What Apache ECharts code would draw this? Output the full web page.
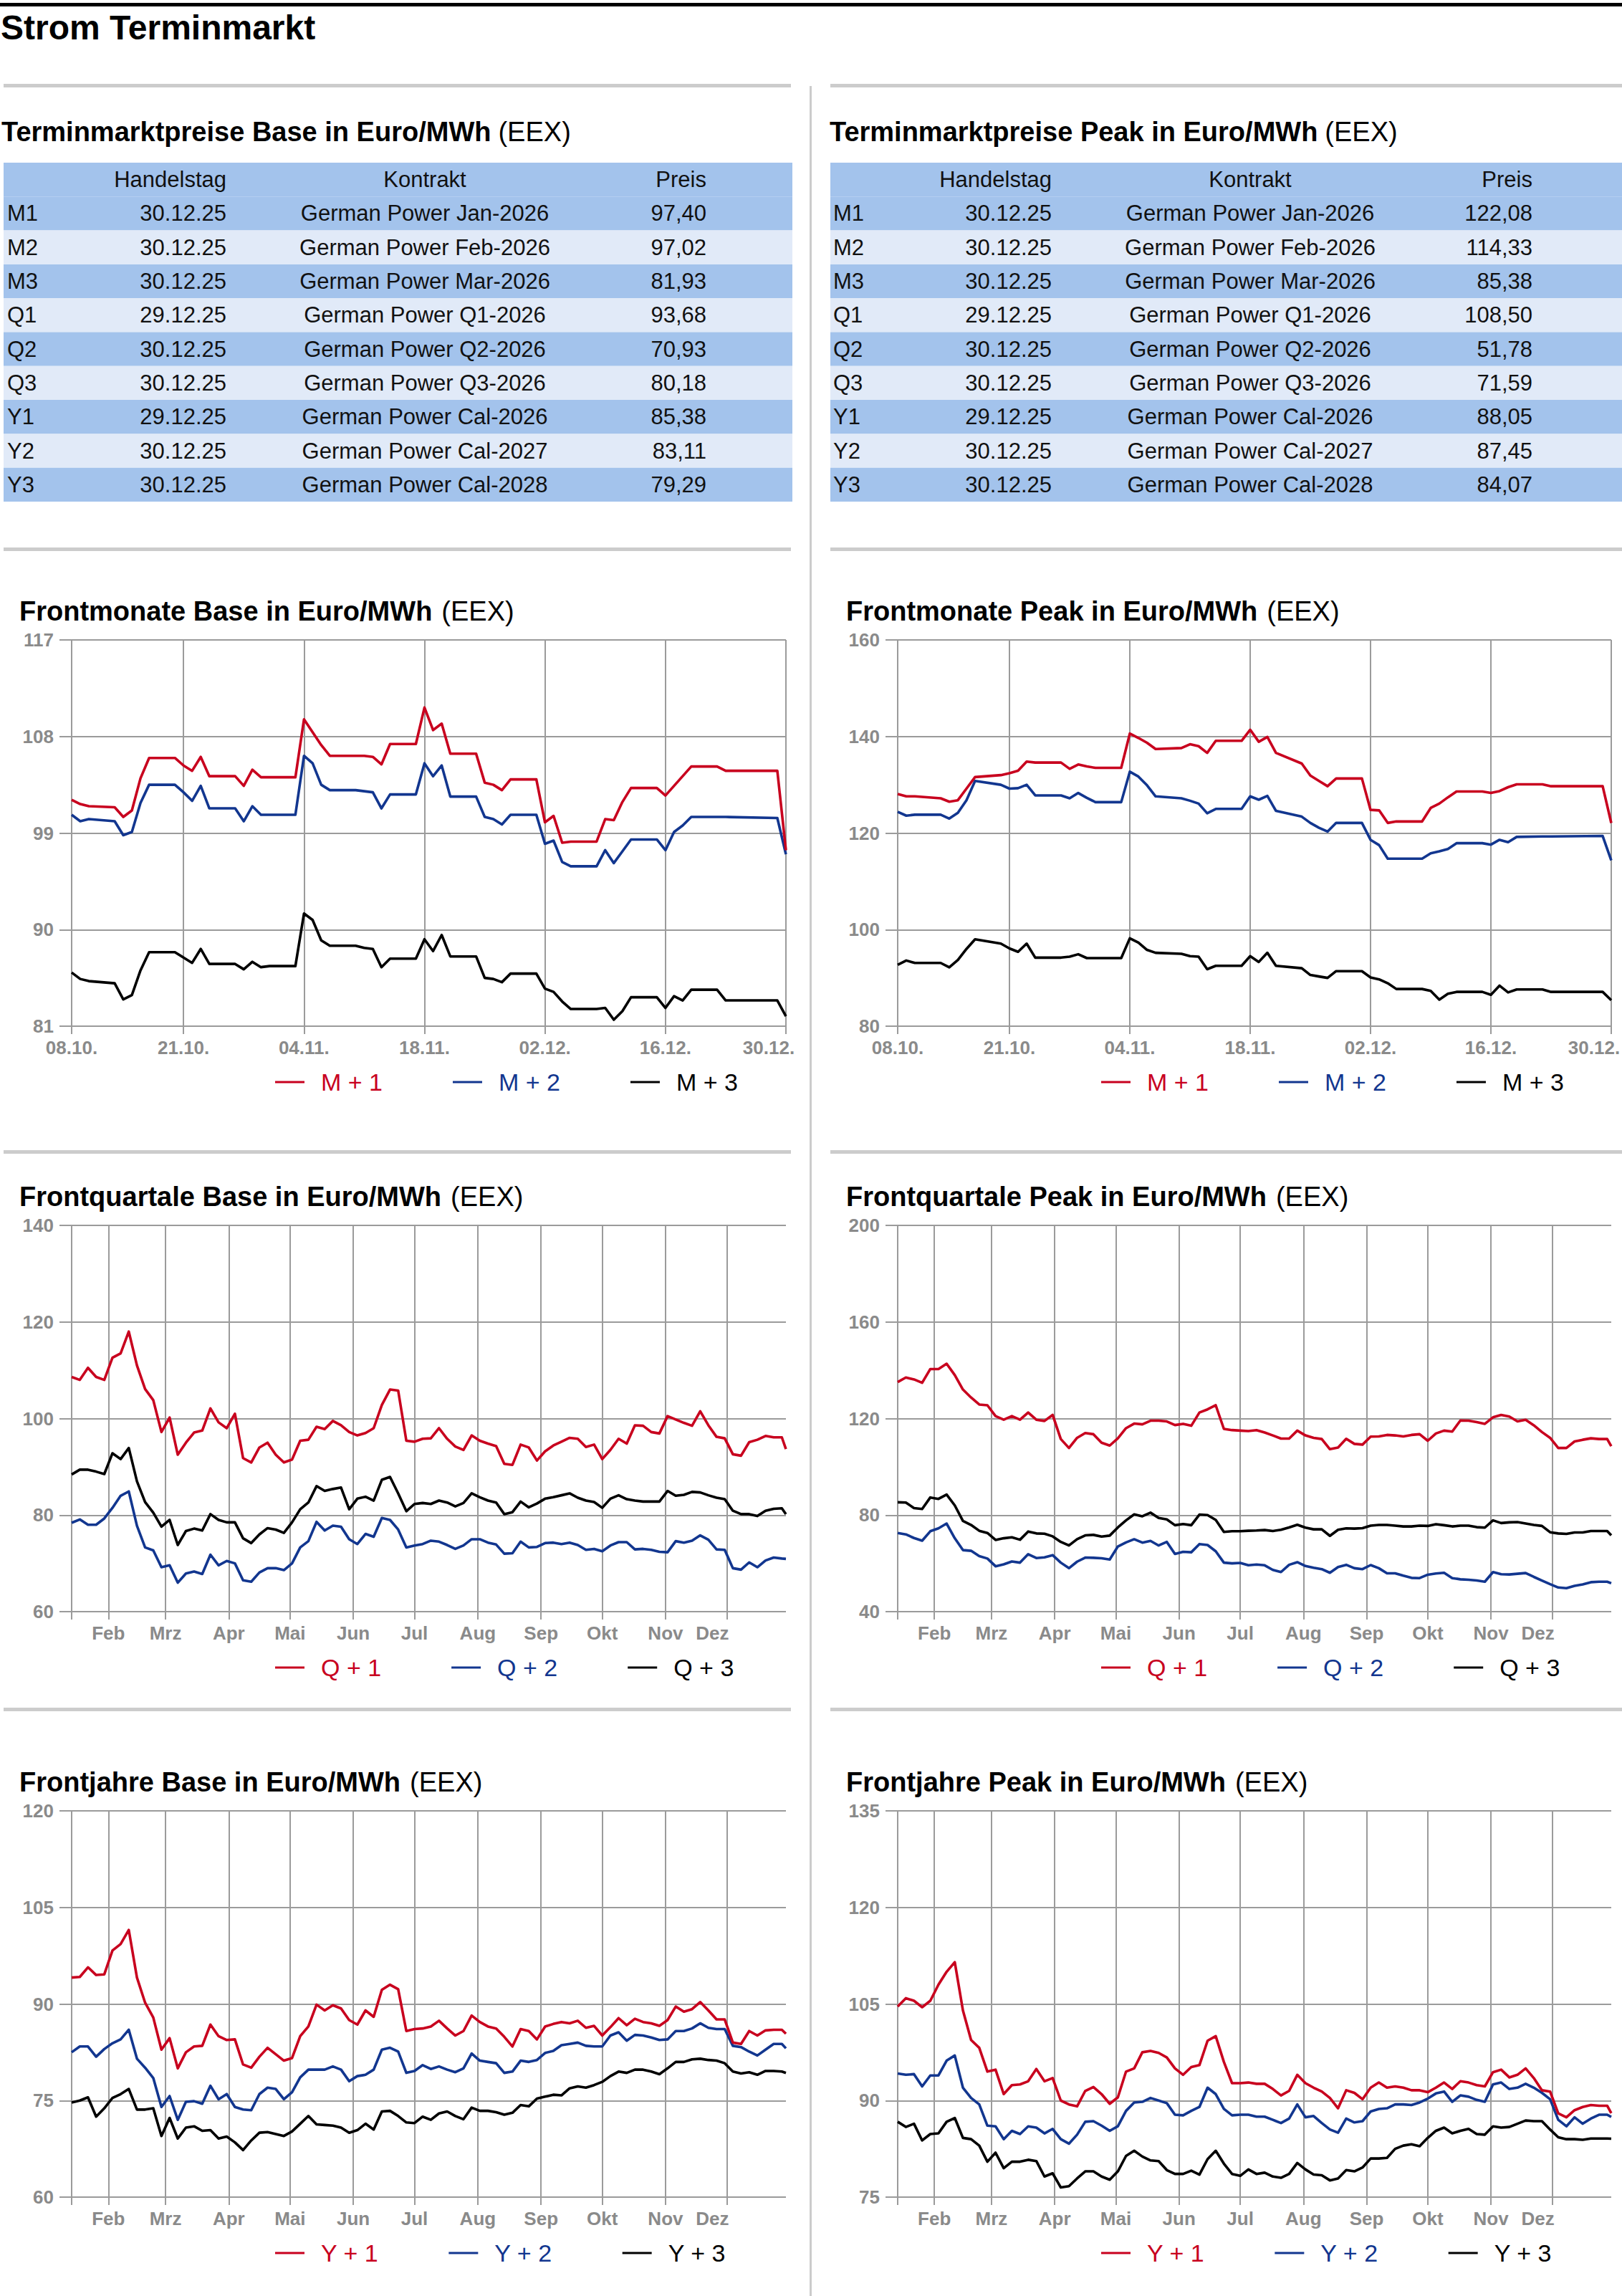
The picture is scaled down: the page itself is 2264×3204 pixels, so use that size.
<!DOCTYPE html>
<html><head><meta charset="utf-8">
<script src="https://cdn.jsdelivr.net/npm/echarts@6/dist/echarts.min.js"></script>
<style>html,body{margin:0;padding:0;background:#fff}#c{width:2264px;height:3204px}</style>
</head><body><div id="c"></div>
<script>
// ---------------- DATA ----------------
const tableRowLabels = ['M1','M2','M3','Q1','Q2','Q3','Y1','Y2','Y3'];
const tableHeader = ['Handelstag','Kontrakt','Preis'];
const baseDates = ['30.12.25','30.12.25','30.12.25','29.12.25','30.12.25','30.12.25','29.12.25','30.12.25','30.12.25'];
const baseContracts = ['German Power Jan-2026','German Power Feb-2026','German Power Mar-2026','German Power Q1-2026','German Power Q2-2026','German Power Q3-2026','German Power Cal-2026','German Power Cal-2027','German Power Cal-2028'];
const basePrices = ['97,40','97,02','81,93','93,68','70,93','80,18','85,38','83,11','79,29'];
const peakDates = ['30.12.25','30.12.25','30.12.25','29.12.25','30.12.25','30.12.25','29.12.25','30.12.25','30.12.25'];
const peakContracts = ['German Power Jan-2026','German Power Feb-2026','German Power Mar-2026','German Power Q1-2026','German Power Q2-2026','German Power Q3-2026','German Power Cal-2026','German Power Cal-2027','German Power Cal-2028'];
const peakPrices = ['122,08','114,33','85,38','108,50','51,78','71,59','88,05','87,45','84,07'];

const fmNames = ['M + 1','M + 2','M + 3'];
const qNames = ['Q + 1','Q + 2','Q + 3'];
const yNames = ['Y + 1','Y + 2','Y + 3'];

const fmDates = ['2025-10-08','2025-10-09','2025-10-10','2025-10-13','2025-10-14','2025-10-15','2025-10-16','2025-10-17','2025-10-20','2025-10-21','2025-10-22','2025-10-23','2025-10-24','2025-10-27','2025-10-28','2025-10-29','2025-10-30','2025-10-31',
'2025-11-03','2025-11-04','2025-11-05','2025-11-06','2025-11-07','2025-11-10','2025-11-11','2025-11-12','2025-11-13','2025-11-14','2025-11-17','2025-11-18','2025-11-19','2025-11-20','2025-11-21','2025-11-24','2025-11-25','2025-11-26','2025-11-27','2025-11-28',
'2025-12-01','2025-12-02','2025-12-03','2025-12-04','2025-12-05','2025-12-08','2025-12-09','2025-12-10','2025-12-11','2025-12-12','2025-12-15','2025-12-16','2025-12-17','2025-12-18','2025-12-19','2025-12-22','2025-12-23','2025-12-29','2025-12-30'];
const fmTickDates = ['2025-10-08','2025-10-21','2025-11-04','2025-11-18','2025-12-02','2025-12-16','2025-12-30'];
const fmLabelDates = ['2025-10-08','2025-10-21','2025-11-04','2025-11-18','2025-12-02','2025-12-16','2025-12-28'];
const fmLabelNames = ['08.10.','21.10.','04.11.','18.11.','02.12.','16.12.','30.12.'];

const fmBaseM1 = [102.1,101.7,101.5,101.4,100.5,101.1,104.1,106.0,106.0,105.3,104.8,106.1,104.3,104.3,103.4,104.9,104.2,104.2,
104.2,109.6,108.4,107.2,106.2,106.2,106.2,106.1,105.4,107.3,107.3,110.7,108.6,109.2,106.4,106.4,103.7,103.5,103.0,104.0,
104.0,100.0,100.6,98.1,98.2,98.2,100.3,100.2,101.9,103.2,103.2,102.5,103.4,104.3,105.2,105.2,104.8,104.8,97.40];
const fmBaseM2 = [100.7,100.1,100.3,100.1,98.8,99.1,101.8,103.5,103.5,102.8,102.0,103.4,101.3,101.3,100.1,101.5,100.7,100.7,
100.7,106.2,105.5,103.5,103.0,103.0,102.9,102.8,101.3,102.6,102.6,105.5,104.3,105.3,102.4,102.4,100.5,100.3,99.8,100.7,
100.7,98.0,98.3,96.3,95.9,95.9,97.4,96.2,97.3,98.4,98.4,97.4,99.1,99.7,100.5,100.5,100.5,100.4,97.02];
const fmBaseM3 = [86.0,85.4,85.2,85.0,83.5,83.9,86.2,87.9,87.9,87.4,86.9,88.2,86.8,86.8,86.3,87.0,86.5,86.6,
86.6,91.5,90.9,89.0,88.5,88.5,88.3,88.2,86.5,87.3,87.3,89.1,88.0,89.5,87.5,87.5,85.5,85.4,85.1,85.9,
85.9,84.5,84.2,83.3,82.6,82.6,82.7,81.6,82.4,83.7,83.7,82.7,83.8,83.4,84.4,84.4,83.4,83.4,81.93];
const fmPeakM1 = [128.1,127.6,127.6,127.2,126.5,126.8,129.2,131.6,132.0,132.4,132.9,134.8,134.6,134.6,133.3,134.2,133.8,133.5,
133.5,140.6,139.7,138.7,137.4,137.6,138.4,138.0,136.6,139.1,139.1,141.4,138.9,139.9,136.6,134.4,131.9,130.8,129.7,131.3,
131.3,124.8,124.7,122.1,122.4,122.4,125.2,126.1,127.4,128.6,128.6,128.3,128.7,129.5,130.1,130.1,129.7,129.7,122.08];
const fmPeakM2 = [124.4,123.6,123.8,123.8,123.0,124.2,126.8,130.8,130.0,129.2,129.3,130.0,127.8,127.8,127.2,128.3,127.3,126.4,
126.4,132.7,131.7,129.9,127.6,127.2,126.7,126.1,124.1,125.0,125.0,127.6,126.9,127.7,124.6,123.4,122.1,121.1,120.3,122.1,
122.1,118.6,117.5,114.7,114.7,114.7,115.8,116.2,116.7,117.9,117.9,117.6,118.6,118.1,119.2,119.3,119.3,119.4,114.33];
const fmPeakM3 = [92.7,93.6,93.1,93.1,92.2,93.7,96.0,98.0,97.1,96.1,95.4,97.1,94.2,94.2,94.4,94.9,94.1,94.1,
94.1,98.2,97.3,95.8,95.2,95.0,94.5,94.4,91.8,92.5,92.5,94.5,93.3,95.2,92.5,92.0,90.6,90.3,90.0,91.4,
91.4,90.1,89.7,88.9,87.7,87.7,87.3,85.5,86.7,87.1,87.1,86.5,88.4,87.0,87.6,87.6,87.1,87.1,85.38];

const yrDates = ['2025-01-14','2025-01-18','2025-01-22','2025-01-26','2025-01-30','2025-02-03','2025-02-07','2025-02-11','2025-02-15','2025-02-19','2025-02-23','2025-02-27',
'2025-03-03','2025-03-07','2025-03-11','2025-03-15','2025-03-19','2025-03-23','2025-03-27','2025-03-31','2025-04-04','2025-04-08','2025-04-12','2025-04-16','2025-04-20','2025-04-24','2025-04-28',
'2025-05-02','2025-05-06','2025-05-10','2025-05-14','2025-05-18','2025-05-22','2025-05-26','2025-05-30','2025-06-03','2025-06-07','2025-06-11','2025-06-15','2025-06-19','2025-06-23','2025-06-27',
'2025-07-01','2025-07-05','2025-07-09','2025-07-13','2025-07-17','2025-07-21','2025-07-25','2025-07-29','2025-08-02','2025-08-06','2025-08-10','2025-08-14','2025-08-18','2025-08-22','2025-08-26','2025-08-30',
'2025-09-03','2025-09-07','2025-09-11','2025-09-15','2025-09-19','2025-09-23','2025-09-27','2025-10-01','2025-10-05','2025-10-09','2025-10-13','2025-10-17','2025-10-21','2025-10-25','2025-10-29',
'2025-11-02','2025-11-06','2025-11-10','2025-11-14','2025-11-18','2025-11-22','2025-11-26','2025-11-30','2025-12-04','2025-12-08','2025-12-12','2025-12-16','2025-12-20','2025-12-24','2025-12-28','2025-12-30'];
const yrGridDates = ['2025-01-14','2025-02-01','2025-03-01','2025-04-01','2025-05-01','2025-06-01','2025-07-01','2025-08-01','2025-09-01','2025-10-01','2025-11-01','2025-12-01'];
const yrLabelDates = ['2025-02-01','2025-03-01','2025-04-01','2025-05-01','2025-06-01','2025-07-01','2025-08-01','2025-09-01','2025-10-01','2025-11-01','2025-11-24'];
const yrLabelNames = ['Feb','Mrz','Apr','Mai','Jun','Jul','Aug','Sep','Okt','Nov','Dez'];

const qBaseQ1 = [108.6,108.0,110.5,108.6,108.0,112.6,113.5,118.0,111.0,106.1,103.8,97.2,100.2,92.5,95.0,97.1,97.5,102.1,99.2,98.0,
101.0,91.8,90.9,94.0,95.0,92.5,90.9,91.5,95.4,95.6,98.3,97.8,99.5,98.6,97.2,96.5,97.0,98.0,102.8,106.0,
105.8,95.4,95.2,95.8,95.9,98.0,95.8,94.2,93.5,96.5,95.4,94.8,94.3,90.6,90.4,94.6,94.0,91.3,93.2,94.4,
95.2,96.0,95.8,94.1,94.6,91.6,93.5,95.8,94.8,98.6,98.5,97.2,96.9,100.5,99.8,99.1,98.5,101.5,98.6,96.2,
95.9,92.6,92.3,95.1,95.6,96.4,96.1,96.1,93.68];
const qBaseQ2 = [78.4,79.1,78.0,78.0,79.3,81.5,84.0,84.9,77.8,73.3,72.7,69.2,69.6,66.0,67.9,68.3,67.8,71.8,69.6,70.5,
70.0,66.5,66.2,68.1,69.0,69.0,68.6,70.0,73.3,74.6,78.6,76.8,77.8,77.6,75.0,74.0,76.1,75.5,79.4,79.0,
77.0,73.3,73.7,74.0,74.7,74.5,73.8,73.0,73.7,75.0,75.0,74.3,73.9,72.0,72.1,74.5,73.3,73.4,74.2,74.3,
74.0,74.3,73.8,72.8,73.0,72.5,73.7,74.4,74.4,72.9,73.0,72.8,72.4,72.3,74.6,74.3,74.7,75.8,74.9,72.9,
72.8,69.0,68.7,70.2,69.2,70.6,71.2,71.0,70.93];
const qBaseQ3 = [88.4,89.4,89.4,89.0,88.5,92.8,91.6,93.9,87.0,82.7,80.5,77.6,79.0,73.8,76.7,77.2,76.8,80.2,79.0,78.5,
78.5,75.2,74.2,76.0,77.3,77.0,76.3,78.5,81.2,82.6,86.0,85.0,85.4,85.7,81.2,83.4,83.8,83.0,87.3,87.9,
84.5,80.8,82.3,82.5,82.3,83.0,82.6,81.8,82.5,84.5,83.7,83.0,82.6,80.2,80.6,82.8,81.6,82.4,83.4,83.7,
84.1,84.5,83.6,83.0,82.7,81.5,83.4,84.1,83.3,83.0,82.8,82.8,82.8,85.0,84.0,84.2,84.8,84.7,84.1,83.6,
83.3,80.9,80.2,80.2,79.8,80.9,81.3,81.4,80.18];
const qPeakQ1 = [135.1,137.0,136.2,134.8,140.5,140.5,142.7,138.0,132.0,128.7,125.8,125.5,121.0,119.5,121.0,119.5,122.5,119.5,119.0,121.5,
111.5,107.8,112.0,114.0,113.5,110.0,108.8,111.8,116.0,117.9,117.6,119.1,119.1,118.8,117.3,117.8,117.0,122.5,123.8,125.5,
115.7,115.2,115.0,114.8,115.2,114.2,113.0,111.7,111.7,115.0,113.0,112.0,111.5,107.3,108.0,111.6,109.5,109.2,112.5,112.6,
113.2,113.0,112.6,113.2,113.5,110.8,113.8,115.0,114.6,119.2,119.1,118.5,117.8,120.5,121.5,120.8,118.8,119.5,117.2,114.4,
112.0,107.8,107.8,110.5,111.2,111.8,111.5,111.5,108.50];
const qPeakQ2 = [72.6,72.0,70.5,69.4,73.3,74.5,76.5,70.4,65.5,65.2,63.0,62.0,58.8,59.6,60.8,60.3,63.8,62.2,62.5,63.4,
60.3,58.0,60.7,62.4,62.3,62.1,61.6,67.0,68.7,70.0,68.6,69.3,67.4,68.9,63.9,64.8,64.6,68.0,67.6,65.0,
60.3,60.0,60.2,59.2,59.5,59.2,57.3,56.4,59.4,60.5,58.9,58.2,57.6,56.1,58.5,59.4,58.0,57.6,59.3,58.0,
55.9,55.9,54.9,54.0,53.9,55.3,55.8,56.1,53.9,53.4,53.2,52.9,52.4,56.4,55.5,55.4,55.7,56.0,54.4,52.9,
51.4,50.0,49.7,50.7,51.3,52.2,52.4,52.4,51.78];
const qPeakQ3 = [85.3,85.2,82.9,82.5,87.3,86.7,88.5,84.0,77.6,75.9,73.5,72.6,69.7,70.4,70.8,69.8,73.2,72.4,72.3,71.2,
68.9,67.4,70.0,71.6,71.8,71.1,71.5,74.9,77.8,80.3,79.5,81.0,78.8,78.2,75.8,76.3,75.8,80.2,80.0,78.0,
73.0,73.3,73.3,73.5,73.6,73.8,73.4,73.9,74.9,76.0,74.8,74.1,74.1,71.4,73.9,74.5,74.4,74.6,75.6,75.9,
75.9,75.6,75.3,75.3,75.6,75.5,76.2,75.8,75.3,75.6,75.6,75.0,74.8,77.8,76.7,77.0,77.1,76.5,75.9,75.5,
72.9,72.4,72.2,72.8,72.8,73.4,73.4,73.4,71.59];
const yBaseY1 = [94.1,94.2,95.7,94.5,94.6,98.3,99.3,101.5,94.1,90.2,87.9,82.9,84.7,80.0,82.5,83.4,83.5,86.8,85.0,84.4,
84.5,80.6,80.1,81.8,83.2,82.2,81.2,81.6,85.0,86.5,89.9,89.0,89.8,89.3,87.5,86.8,89.0,88.0,92.2,93.0,
92.3,85.8,86.1,86.2,86.5,87.4,86.2,85.1,85.8,88.2,87.2,86.5,86.2,84.9,83.4,86.1,85.8,84.5,86.5,86.9,
87.2,87.0,87.4,86.3,86.6,85.1,86.4,87.8,86.7,87.7,87.2,87.0,86.6,87.5,89.6,88.8,89.2,90.3,89.0,87.6,
87.6,84.0,83.8,85.8,85.1,85.9,86.0,86.0,85.38];
const yBaseY2 = [82.5,83.4,83.4,81.8,83.0,83.9,84.5,86.0,81.5,80.1,78.5,74.0,75.7,72.0,74.8,74.9,74.5,77.3,75.2,76.0,
74.0,73.6,73.5,76.0,77.0,76.8,75.2,76.3,78.6,79.8,79.8,79.8,80.3,79.8,78.0,78.8,79.0,79.8,82.9,83.2,
82.6,79.3,79.6,80.5,79.9,80.3,79.8,79.4,80.0,82.3,81.2,81.0,80.8,79.3,79.5,81.2,81.0,81.3,82.4,82.7,
83.6,83.8,84.0,83.5,83.4,83.4,85.1,85.6,84.3,85.2,85.1,84.8,84.4,84.5,85.8,85.8,86.2,87.0,86.3,86.1,
86.1,83.5,83.3,82.6,82.0,82.9,83.8,83.8,83.11];
const yBaseY3 = [74.7,75.0,75.5,72.5,73.8,75.4,76.0,76.8,73.6,73.6,73.8,69.5,72.3,69.1,70.8,71.0,70.3,70.4,69.1,69.4,
68.5,67.3,68.8,70.0,70.1,69.8,69.5,70.2,71.4,72.6,71.3,71.2,71.1,70.8,70.0,70.4,71.4,70.5,73.3,73.4,
72.6,71.6,71.5,72.5,72.0,73.0,73.3,72.6,72.1,73.9,73.4,73.4,73.2,72.8,73.1,74.3,74.1,75.3,75.6,75.9,
75.8,76.9,77.2,77.0,77.4,77.9,78.8,79.5,79.3,79.8,79.8,79.5,79.1,80.0,81.0,81.0,81.4,81.5,81.3,81.2,
80.8,79.5,79.2,79.4,79.0,79.6,79.6,79.5,79.29];
const yPeakY1 = [104.6,105.9,105.5,104.5,105.5,108.0,110.0,111.5,104.0,99.4,98.2,94.5,94.8,91.0,92.4,92.5,93.0,94.9,93.0,93.5,
90.0,89.4,89.1,91.5,92.1,91.0,89.5,90.5,94.5,95.0,97.5,97.7,97.4,96.7,95.0,94.0,95.2,95.5,99.3,100.0,
96.0,92.7,92.7,92.8,92.6,92.6,91.8,90.8,91.5,94.0,92.7,92.0,91.4,90.4,88.8,91.6,91.2,90.2,92.0,92.8,
92.0,92.2,92.0,91.6,91.6,91.3,92.0,92.8,91.8,93.0,92.8,92.4,92.2,94.4,94.8,93.6,94.0,95.0,93.5,91.6,
91.4,88.0,87.4,88.5,89.0,89.3,89.2,89.2,88.05];
const yPeakY2 = [94.2,94.0,94.1,92.2,93.9,93.9,96.2,97.0,92.0,90.4,89.4,86.1,86.0,84.0,85.3,84.8,86.0,85.8,84.9,85.6,
84.0,83.3,84.7,86.7,86.8,86.1,85.3,86.0,88.4,89.7,89.8,90.4,90.0,89.6,87.8,87.7,88.4,89.0,92.0,91.0,
88.7,87.7,87.8,87.8,87.5,87.5,87.0,86.5,87.2,89.4,87.4,87.6,86.5,85.5,85.0,87.2,86.6,86.8,88.3,88.7,
88.8,89.4,89.4,89.3,89.7,90.3,91.1,91.4,89.8,90.8,90.6,90.1,89.8,92.5,92.8,91.8,92.0,92.6,92.0,91.2,
90.2,87.0,86.0,87.4,86.4,87.2,87.8,87.8,87.45];
const yPeakY3 = [86.7,85.9,86.4,83.8,84.8,84.9,86.7,87.3,84.2,84.0,83.0,80.5,81.9,79.5,80.5,80.5,80.8,80.6,78.2,78.7,
76.5,76.7,77.9,79.0,79.0,78.2,77.7,79.0,81.4,82.2,81.3,80.7,80.6,79.2,78.6,78.6,79.1,78.5,80.9,82.2,
80.2,78.6,78.3,79.3,78.6,78.8,78.2,78.0,78.6,80.3,79.3,78.5,78.4,77.6,77.9,79.2,79.0,79.6,81.0,81.0,
81.1,82.5,83.0,83.2,82.9,84.2,85.3,85.8,84.9,85.3,85.6,84.8,84.7,86.0,85.8,85.9,86.4,86.9,86.8,86.8,
85.5,84.3,84.0,84.0,83.9,84.1,84.1,84.1,84.07];

// ---------------- STYLE / LAYOUT ----------------
const FONT = "'Liberation Sans', Arial, Helvetica, sans-serif";
const COLORS = ['#c8001e', '#12368f', '#000000'];
const GRID_C = '#9b9b9b';
const LABEL_C = '#8a8a8a';
const SEP_C = '#cccccc';
const ROW_DARK = '#a3c3ec';
const ROW_LIGHT = '#e1eaf8';
const GRID_L = [100, 1253], GRID_W = [997, 996];
const GRID_T = [893, 1710, 2527], GRID_H = 539;
const TITLE_X = [27, 1181];

function ts(s){ const p = s.split('-').map(Number); return new Date(p[0], p[1]-1, p[2]).getTime(); }

const panels = [
  {col:0,row:0,title:'Frontmonate Base in Euro/MWh',kind:'fm',names:fmNames,data:[fmBaseM1,fmBaseM2,fmBaseM3],y:[81,117,9]},
  {col:1,row:0,title:'Frontmonate Peak in Euro/MWh',kind:'fm',names:fmNames,data:[fmPeakM1,fmPeakM2,fmPeakM3],y:[80,160,20]},
  {col:0,row:1,title:'Frontquartale Base in Euro/MWh',kind:'yr',names:qNames,data:[qBaseQ1,qBaseQ2,qBaseQ3],y:[60,140,20]},
  {col:1,row:1,title:'Frontquartale Peak in Euro/MWh',kind:'yr',names:qNames,data:[qPeakQ1,qPeakQ2,qPeakQ3],y:[40,200,40]},
  {col:0,row:2,title:'Frontjahre Base in Euro/MWh',kind:'yr',names:yNames,data:[yBaseY1,yBaseY2,yBaseY3],y:[60,120,15]},
  {col:1,row:2,title:'Frontjahre Peak in Euro/MWh',kind:'yr',names:yNames,data:[yPeakY1,yPeakY2,yPeakY3],y:[75,135,15]}
];

const labelMap = {};
yrLabelDates.forEach((d, i) => { labelMap[ts(d)] = yrLabelNames[i]; });
fmLabelDates.forEach((d, i) => { labelMap[ts(d)] = fmLabelNames[i]; });

const grids = [], xAxes = [], yAxes = [], series = [], legends = [], graphics = [];

function txt(x, y, text, opt){
  opt = opt || {};
  const st = {
    text: text,
    fill: opt.fill || '#111',
    fontFamily: FONT, fontSize: opt.size || 30, fontWeight: opt.weight || 'normal',
    align: opt.align || 'left', textAlign: opt.align || 'left',
    verticalAlign: 'middle', textVerticalAlign: 'middle'
  };
  if (opt.rich) st.rich = opt.rich;
  return {type:'text', x:x, y:y, silent:true, style: st};
}

function richTitle(x, baseline, bold, reg, size, gap){
  return txt(x, baseline - size*0.35, '{b|' + bold + '}{r|' + reg + '}', {
    size: size, fill:'#000',
    rich: {
      b: {fontFamily:FONT, fontWeight:'bold', fontSize:size, fill:'#000', color:'#000'},
      r: {fontFamily:FONT, fontWeight:'normal', fontSize:size, fill:'#000', color:'#000', padding:[0,0,0,gap]}
    }
  });
}

// top rule + main title
graphics.push({type:'rect', silent:true, shape:{x:0,y:4,width:2264,height:5}, style:{fill:'#000'}});
graphics.push(txt(1, 38, 'Strom Terminmarkt', {size:48, weight:'bold', fill:'#000'}));

// separators
[117, 764, 1605, 2383].forEach(y => {
  graphics.push({type:'rect', silent:true, shape:{x:5,y:y,width:1099,height:5}, style:{fill:SEP_C}});
  graphics.push({type:'rect', silent:true, shape:{x:1159,y:y,width:1105,height:5}, style:{fill:SEP_C}});
});
graphics.push({type:'rect', silent:true, shape:{x:1130,y:120,width:3,height:3084}, style:{fill:SEP_C}});

// tables
const tables = [
  {x0:5, x1:1106, tx:2, title:'Terminmarktpreise Base in Euro/MWh', dates:baseDates, contracts:baseContracts, prices:basePrices, cLab:10, cDate:316, cKon:593, cPreis:986},
  {x0:1159, x1:2264, tx:1158, title:'Terminmarktpreise Peak in Euro/MWh', dates:peakDates, contracts:peakContracts, prices:peakPrices, cLab:1163, cDate:1468, cKon:1745, cPreis:2139}
];
const T_TOP = 227, ROW_H = 47.3;
tables.forEach(t => {
  graphics.push(richTitle(t.tx, 197, t.title, '(EEX)', 38, 10));
  graphics.push({type:'rect', silent:true, shape:{x:t.x0, y:T_TOP, width:t.x1-t.x0, height:ROW_H}, style:{fill:ROW_DARK}});
  const hy = T_TOP + ROW_H/2;
  graphics.push(txt(t.cDate, hy, tableHeader[0], {align:'right', size:31}));
  graphics.push(txt(t.cKon, hy, tableHeader[1], {align:'center', size:31}));
  graphics.push(txt(t.cPreis, hy, tableHeader[2], {align:'right', size:31}));
  tableRowLabels.forEach((lab, i) => {
    const y0 = T_TOP + (i+1)*ROW_H;
    graphics.push({type:'rect', silent:true, shape:{x:t.x0, y:y0, width:t.x1-t.x0, height:ROW_H}, style:{fill: i % 2 === 0 ? ROW_DARK : ROW_LIGHT}});
    const cy = y0 + ROW_H/2;
    graphics.push(txt(t.cLab, cy, lab, {size:31}));
    graphics.push(txt(t.cDate, cy, t.dates[i], {align:'right', size:31}));
    graphics.push(txt(t.cKon, cy, t.contracts[i], {align:'center', size:31}));
    graphics.push(txt(t.cPreis, cy, t.prices[i], {align:'right', size:31}));
  });
});

// charts
panels.forEach((p, i) => {
  const left = GRID_L[p.col], top = GRID_T[p.row];
  grids.push({left:left, top:top, width:GRID_W[p.col], height:GRID_H, containLabel:false, outerBoundsMode:'none'});
  graphics.push(richTitle(TITLE_X[p.col], top - 27, p.title, '(EEX)', 38, 13));

  const isFm = p.kind === 'fm';
  const dates = isFm ? fmDates : yrDates;
  const tickVals = (isFm ? fmTickDates : yrGridDates).map(ts);
  const labelVals = (isFm ? fmLabelDates : yrLabelDates).map(ts);
  xAxes.push({
    type:'value', gridIndex:i, scale:true,
    min: isFm ? ts('2025-10-08') : ts('2025-01-14'),
    max: ts('2025-12-30'),
    axisLine:{show:false},
    axisTick:{show:true, length:11, lineStyle:{color:GRID_C, width:2}, customValues: tickVals},
    axisLabel:{
      customValues: labelVals, hideOverlap:false,
      color:LABEL_C, fontSize:26, fontWeight:'bold', fontFamily:FONT, margin:17,
      formatter: v => labelMap[v] || ''
    },
    splitLine:{show:true, lineStyle:{color:GRID_C, width:2}}
  });
  yAxes.push({
    type:'value', gridIndex:i, min:p.y[0], max:p.y[1], interval:p.y[2],
    axisLine:{show:true, lineStyle:{color:GRID_C, width:2}},
    axisTick:{show:true, length:17, lineStyle:{color:GRID_C, width:2}},
    axisLabel:{color:LABEL_C, fontSize:26, fontWeight:'bold', fontFamily:FONT, margin:25},
    splitLine:{show:true, lineStyle:{color:GRID_C, width:2}}
  });
  p.data.forEach((vals, j) => {
    series.push({
      type:'line', name:p.names[j], xAxisIndex:i, yAxisIndex:i,
      data: dates.map((d, k) => [ts(d), vals[k]]),
      showSymbol:false, symbol:'none', smooth:false,
      lineStyle:{width:3.6, color:COLORS[j], join:'round'}, itemStyle:{color:COLORS[j]},
      z: 3 - j, silent:true
    });
  });
  legends.push({
    data: p.names.map((n, j) => ({name:n, textStyle:{color:COLORS[j]}})),
    left: left + 284, top: top + GRID_H + 79 - 18,
    orient:'horizontal', icon:'rect', itemWidth:41, itemHeight:3, itemGap:98, padding:0,
    selectedMode:false,
    textStyle:{fontSize:34, fontFamily:FONT, padding:[0,0,0,18]}
  });
});

const chart = echarts.init(document.getElementById('c'), null, {renderer:'svg', width:2264, height:3204});
chart.setOption({
  animation:false,
  backgroundColor:'#ffffff',
  grid:grids, xAxis:xAxes, yAxis:yAxes, series:series, legend:legends,
  graphic:{elements:graphics}
});
</script>
</body></html>
